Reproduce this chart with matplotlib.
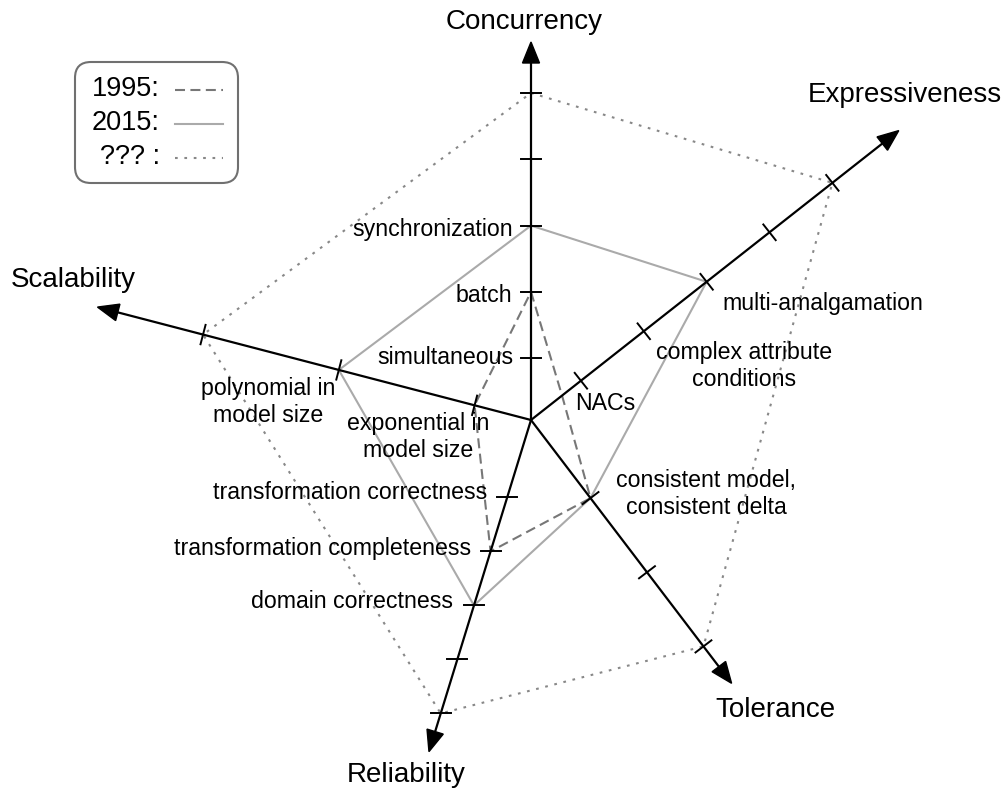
import numpy as np
import matplotlib
matplotlib.use("Agg")
import matplotlib.pyplot as plt
from matplotlib.patches import Polygon, FancyBboxPatch

plt.rcParams['font.family'] = ['Liberation Sans', 'DejaVu Sans']

# axes of the diagram, in drawing order
axis_names = ['Concurrency', 'Expressiveness', 'Tolerance', 'Reliability', 'Scalability']

# levels per axis (same order as axis_names)
levels_1995 = [2, 0.7, 1, 2, 1]
levels_2015 = [3, 3, 1, 3, 2]
levels_future = [5, 5, 3, 5, 3]

# tick levels drawn on each axis
tick_levels = {
    'Concurrency': [1, 2, 3, 4, 5],
    'Expressiveness': [1, 2, 3, 4, 5],
    'Tolerance': [1, 2, 3],
    'Reliability': [1, 2, 3, 4, 5],
    'Scalability': [1, 2, 3],
}

# level labels
level_texts = {
    'Concurrency': ['simultaneous', 'batch', 'synchronization'],
    'Expressiveness': ['NACs', 'complex attribute\nconditions', 'multi-amalgamation'],
    'Tolerance': ['consistent model,\nconsistent delta'],
    'Reliability': ['transformation correctness', 'transformation completeness',
                    'domain correctness'],
    'Scalability': ['exponential in\nmodel size', 'polynomial in\nmodel size'],
}

legend_labels = ['1995:', '2015:', '??? :']

# ---- layout (pixel space, y grows downward) ----
W, H = 1005, 789
cx, cy = 531, 420
# angle (deg, math convention), px per level, offset of level 0, arrow length, horizontal ticks
geom = {
    'Concurrency': (90.0, 66.3, -4.5, 378, False),
    'Expressiveness': (38.2, 80.0, -16.5, 468, False),
    'Tolerance': (-52.7, 93.2, 5.0, 331, False),
    'Reliability': (-107.1, 56.5, 24.5, 347, True),
    'Scalability': (165.4, 140.3, -82.0, 448, False),
}


def direction(name):
    a = np.radians(geom[name][0])
    return np.array([np.cos(a), -np.sin(a)])


def point(name, level):
    ang, step, off, length, hz = geom[name]
    return np.array([cx, cy]) + (off + step * level) * direction(name)


fig = plt.figure(figsize=(W / 100, H / 100), dpi=100)
ax = fig.add_axes([0, 0, 1, 1])
ax.set_xlim(0, W)
ax.set_ylim(H, 0)
ax.axis('off')

# data polygons
styles = [
    dict(color='#777777', lw=1.5, dashes=(4.8, 2.6)),
    dict(color='#aaaaaa', lw=1.5),
    dict(color='#888888', lw=1.5, dashes=(1.3, 3.2)),
]
for levels, st in zip([levels_1995, levels_2015, levels_future], styles):
    pts = np.array([point(n, v) for n, v in zip(axis_names, levels)])
    pts = np.vstack([pts, pts[:1]])
    ax.plot(pts[:, 0], pts[:, 1], zorder=2, solid_joinstyle='miter', **st)

# axes with arrows and ticks
head_len, head_w = 21, 17
for name in axis_names:
    ang, step, off, length, hz = geom[name]
    d = direction(name)
    perp = np.array([-d[1], d[0]])
    tip = np.array([cx, cy]) + length * d
    base = tip - head_len * d
    ax.plot([cx, base[0] + 2 * d[0]], [cy, base[1] + 2 * d[1]], color='black', lw=1.6, zorder=4)
    ax.add_patch(Polygon([tip, base + perp * head_w / 2, base - perp * head_w / 2],
                         closed=True, color='black', zorder=5))
    tdir = np.array([1.0, 0.0]) if hz else perp
    for lv in tick_levels[name]:
        p = point(name, lv)
        a, b = p - 10 * tdir, p + 10 * tdir
        ax.plot([a[0], b[0]], [a[1], b[1]], color='black', lw=1.4, zorder=4)

# axis names
name_pos = {
    'Concurrency': (524.5, 22, 'center'),
    'Expressiveness': (904.7, 95, 'center'),
    'Tolerance': (775, 710, 'center'),
    'Reliability': (405.8, 775, 'center'),
    'Scalability': (72.8, 280, 'center'),
}
for name in axis_names:
    x, y, ha = name_pos[name]
    ax.text(x, y, name, fontsize=20, ha=ha, va='center', zorder=6)

# level labels
label_pos = {
    'Concurrency': [(513, 357, 'right'), (512, 295, 'right'), (513, 229, 'right')],
    'Expressiveness': [(605.5, 403, 'center'), (744, 366, 'center'), (722.7, 303, 'left')],
    'Tolerance': [(706, 494, 'center')],
    'Reliability': [(487, 492, 'right'), (471, 548, 'right'), (453, 602, 'right')],
    'Scalability': [(418, 437, 'center'), (268, 402, 'center')],
}
for name in axis_names:
    for txt, (x, y, ha) in zip(level_texts[name], label_pos[name]):
        ax.text(x, y, txt, fontsize=16.7, ha=ha, va='center', multialignment='center',
                zorder=6)

# legend box
ax.add_patch(FancyBboxPatch((75, 62), 163, 121, boxstyle='round,pad=0,rounding_size=16',
                            fc='white', ec='#707070', lw=1.5, zorder=6))
leg_y = [89, 123, 157]
for lab, y, st in zip(legend_labels, leg_y, styles):
    ax.text(160, y, lab, fontsize=19.5, ha='right', va='center', zorder=7)
    ax.plot([175, 223], [y + 1, y + 1], zorder=7, **st)

fig.savefig('out.png', dpi=100)
